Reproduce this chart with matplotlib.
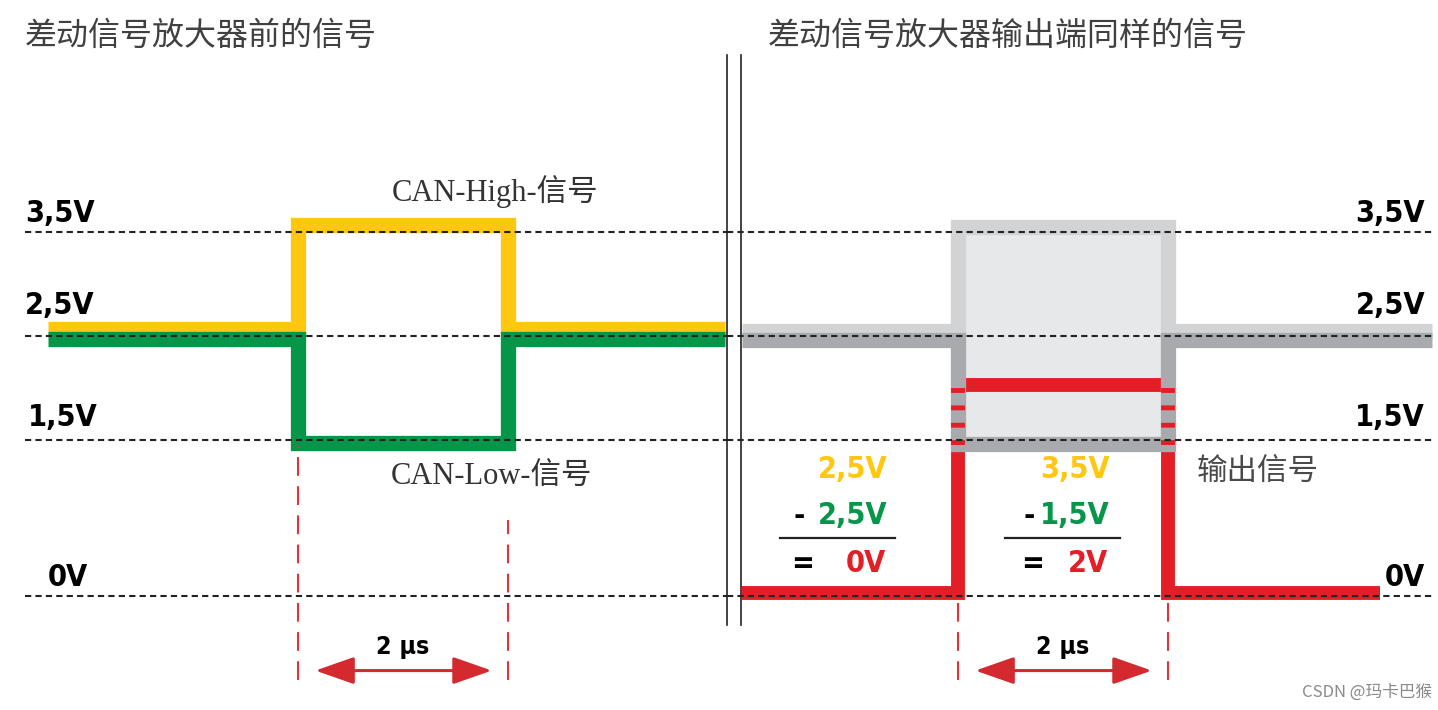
import matplotlib.pyplot as plt
from matplotlib import font_manager

plt.rcParams['font.family'] = ['Noto Sans CJK SC', 'DejaVu Sans']
plt.rcParams['axes.unicode_minus'] = False

# ---- data ----
levels = [3.5, 2.5, 1.5, 0.0]
level_labels = ['3,5V', '2,5V', '1,5V', '0V']
t_left = [-2.38, 0.0, 2.0, 4.07]      # us
t_right = [-2.05, 0.0, 2.0, 4.52]
t_out = [-2.05, 0.0, 2.0, 4.02]
can_high = [2.5, 3.5, 2.5, 2.5]       # V
can_low = [2.5, 1.5, 2.5, 2.5]
bit_time = 2.0
minuend = [2.5, 3.5]
subtrahend = [2.5, 1.5]
diff_out = [h - l for h, l in zip(can_high, can_low)]
result = [diff_out[0], diff_out[1]]

# ---- layout (pixels) ----
W, H = 1438, 710
Y0, PXV = 595.7, 104.0     # 0V row, px per volt
PXT = 105.0                # px per us

YEL, GRN, RED = '#FFC70F', '#06964A', '#E41E26'
GHI, GLO, GFILL = '#D1D3D4', '#A8AAAD', '#E7E8EA'
MARK = '#E0343C'

names = {f.name for f in font_manager.fontManager.ttflist}
if 'Liberation Sans Narrow' in names:
    VF = dict(family='Liberation Sans Narrow', fontweight='bold')
    vsz = 27
else:
    VF = dict(family='DejaVu Sans', fontweight='bold', fontstretch='condensed')
    vsz = 22

fig = plt.figure(figsize=(W / 100, H / 100), dpi=100)
bg = fig.add_axes([0, 0, 1, 1])
bg.set_xlim(0, W)
bg.set_ylim(H, 0)
bg.axis('off')


def panel(x0, x1, origin):
    ax = fig.add_axes([x0 / W, 0, (x1 - x0) / W, 1])
    ax.set_xlim((x0 - origin) / PXT, (x1 - origin) / PXT)
    ax.set_ylim(-(H - Y0) / PXV, Y0 / PXV)
    ax.axis('off')
    return ax


axL = panel(0, 727, 297.5)
axR = panel(727, 1438, 957.5)

lw_sig = 11
kw = dict(drawstyle='steps-post', solid_joinstyle='miter', solid_capstyle='butt')

# left panel: CAN-High / CAN-Low
axL.plot(t_left, [v + 0.06 for v in can_high], color=YEL, lw=lw_sig, zorder=2, **kw)
axL.plot(t_left, [v - 0.03 for v in can_low], color=GRN, lw=lw_sig, zorder=3, **kw)

# right panel: ghost signals + output
axR.fill_between(t_right, can_low, can_high, step='post', color=GFILL, lw=0, zorder=1)
axR.plot(t_right, [v + 0.05 for v in can_high], color=GHI, lw=lw_sig, zorder=2, **kw)
axR.plot(t_out, [v + 0.03 for v in diff_out], color=RED, lw=10, zorder=3, **kw)
axR.plot(t_right, [v - 0.04 for v in can_low], color=GLO, lw=lw_sig, zorder=4, **kw)
axR.vlines([0, bit_time], min(can_low) - 0.05, max(diff_out), colors=RED, lw=10,
           linestyles=(0, (0.35, 0.9)), zorder=5)

# level dashed lines
dash = dict(colors='#222222', lw=1.5, linestyles=(0, (3, 2)), zorder=6)
xl = axL.get_xlim()
axL.hlines(levels, xl[0] + 25 / PXT, xl[1], **dash)
xr = axR.get_xlim()
axR.hlines(levels, xr[0], xr[1] - 6 / PXT, **dash)

# time markers + arrows
arr_v = -0.72
mk = dict(colors=MARK, lw=1.5, linestyles=(0, (9, 5)), zorder=6)
axL.vlines(0, arr_v - 0.09, min(can_low) - 0.05, **mk)
axL.vlines(bit_time, arr_v - 0.09, 0.73, **mk)
axR.vlines([0, bit_time], arr_v - 0.09, -0.04, **mk)
for ax in (axL, axR):
    ax.annotate('', xy=(bit_time - 0.15, arr_v), xytext=(0.17, arr_v),
                arrowprops=dict(arrowstyle='<|-|>,head_length=1.2,head_width=0.42',
                                mutation_scale=20, lw=2.2, color='#D42A2F',
                                shrinkA=0, shrinkB=0), zorder=7)
    ax.text(bit_time / 2, arr_v + 0.23, '2 μs', ha='center', va='center',
            fontsize=vsz - 4, color='black', **VF)

# ---- text ----
bg.text(25, 36, '差动信号放大器前的信号', fontsize=23, color='#404040', va='center')
bg.text(768, 36, '差动信号放大器输出端同样的信号', fontsize=23, color='#404040', va='center')

ly = [213, 305, 417, 578]
lx = [25, 25, 28, 48]
for lab, x, y in zip(level_labels, lx, ly):
    bg.text(x, y, lab, fontsize=vsz, ha='left', va='center', **VF)
    bg.text(1425, y, lab, fontsize=vsz, ha='right', va='center', **VF)

serif = ['Liberation Serif', 'Noto Sans CJK SC']
bg.text(495, 191, 'CAN-High-信号', family=serif, fontsize=22, color='#333333',
        ha='center', va='center')
bg.text(492, 476, 'CAN-Low-信号', family=serif, fontsize=22, color='#333333',
        ha='center', va='center')
bg.text(1197, 471, '输出信号', fontsize=22, color='#4a4a4a', va='center')


def fmt(v):
    return f'{v:.1f}'.replace('.', ',') + 'V'


for a, b, r, xr_, xop, (l0, l1) in zip(minuend, subtrahend, result,
                                        [888, 1110], [799, 1029],
                                        [(780, 895), (1005, 1120)]):
    bg.text(xr_, 470, fmt(a), color=YEL, fontsize=vsz, ha='right', va='center', **VF)
    bg.text(xr_, 516, fmt(b), color=GRN, fontsize=vsz, ha='right', va='center', **VF)
    bg.text(xop, 516, '-', color='black', fontsize=vsz, ha='center', va='center', **VF)
    bg.plot([l0, l1], [538, 538], color='#222222', lw=1.6)
    bg.text(xr_ - 2, 563, f'{r:g}V', color=RED, fontsize=vsz, ha='right', va='center', **VF)
    bg.text(xop + 4, 563, '=', color='black', fontsize=vsz, ha='center', va='center', **VF)

# divider
for x in (727, 741):
    bg.plot([x, x], [55, 625], color='#222222', lw=1.2)

bg.text(1432, 692, 'CSDN @玛卡巴猴', fontsize=12, color='#8a8a8a', ha='right', va='center')

fig.savefig('out.png', dpi=100, facecolor='white')
